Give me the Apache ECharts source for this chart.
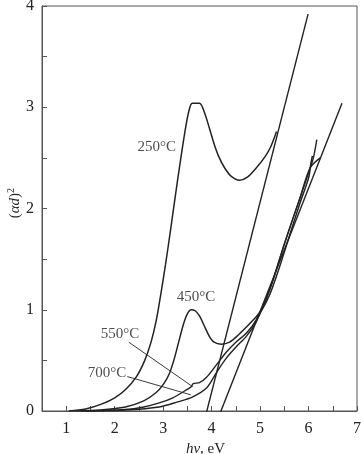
<!DOCTYPE html>
<html>
<head>
<meta charset="utf-8">
<script src="https://cdn.jsdelivr.net/npm/echarts@6/dist/echarts.min.js"></script>
<style>html,body{margin:0;padding:0;background:#fff}#c{width:361px;height:454px}</style>
</head>
<body>
<div id="c"></div>
<script>
var curve250 = [[1.05,0],[1.4,0.02],[1.74,0.07],[2.0,0.13],[2.22,0.21],[2.45,0.34],[2.62,0.5],[2.75,0.68],[2.86,0.9],[2.95,1.15],[3.05,1.45],[3.15,1.78],[3.25,2.12],[3.35,2.45],[3.45,2.76],[3.53,2.96],[3.60,3.04],[3.75,3.04],[3.85,2.95],[3.95,2.8],[4.05,2.64],[4.15,2.51],[4.27,2.40],[4.40,2.32],[4.58,2.28],[4.74,2.31],[4.92,2.40],[5.10,2.51],[5.22,2.61],[5.34,2.76]];
var curve450 = [[1.2,0],[1.7,0.01],[2.22,0.04],[2.6,0.1],[2.85,0.18],[3.0,0.26],[3.12,0.36],[3.22,0.5],[3.32,0.68],[3.42,0.86],[3.5,0.96],[3.58,1.0],[3.66,0.99],[3.75,0.94],[3.85,0.84],[3.95,0.74],[4.05,0.68],[4.2,0.66],[4.37,0.68],[4.55,0.75],[4.72,0.83],[4.9,0.92],[5.05,1.01],[5.2,1.15],[5.4,1.42],[5.6,1.72],[5.82,2.05],[6.0,2.3],[6.05,2.45],[6.08,2.52]];
var curve550 = [[1.3,0],[2.22,0.015],[2.6,0.04],[2.92,0.08],[3.2,0.13],[3.45,0.2],[3.58,0.24],[3.62,0.27],[3.75,0.28],[3.89,0.33],[4.09,0.45],[4.3,0.58],[4.5,0.68],[4.72,0.77],[4.92,0.9],[5.2,1.2],[5.5,1.65],[5.82,2.1],[6.0,2.35],[6.1,2.5],[6.17,2.68]];
var curve700 = [[1.4,0],[2.22,0.01],[2.92,0.04],[3.3,0.09],[3.61,0.14],[3.9,0.23],[4.1,0.38],[4.3,0.52],[4.5,0.63],[4.72,0.74],[4.92,0.88],[5.2,1.2],[5.55,1.72],[5.82,2.1],[6.03,2.4],[6.24,2.5]];
var fitLine1 = [[3.88,-0.04],[5.99,3.92]];
var fitLine2 = [[4.16,-0.04],[6.69,3.04]];
var leader550 = [[2.29,0.68],[3.61,0.24]];
var leader700 = [[2.26,0.34],[3.57,0.16]];
var labelNames = ['250°C','450°C','550°C','700°C'];
var labelPos = [[2.87,2.61],[3.68,1.13],[2.11,0.76],[1.84,0.375]];
var xTicks = [1,2,3,4,5,6,7];
var yTicks = [0,1,2,3,4];

var serif = 'Liberation Serif';
var ink = '#222';
function lineSeries(d, w) {
  return {type:'line', data:d, showSymbol:false, symbol:'none', smooth:0.3, silent:true,
    lineStyle:{color:ink, width:w}, z:3};
}
var chart = echarts.init(document.getElementById('c'), null, {renderer:'canvas'});
chart.setOption({
  animation:false,
  backgroundColor:'#fff',
  grid:{left:42, right:4, top:6, bottom:43, containLabel:false, outerBoundsMode:'none',
    show:true, borderColor:'#555', borderWidth:1},
  graphic:[{type:'text', left:6, top:188, rotation:Math.PI/2, silent:true,
    style:{text:'{p|(}{i|αd}{p|)}{s|2}', rich:{
      i:{fontFamily:serif, fontStyle:'italic', fontSize:15, fill:ink},
      p:{fontFamily:serif, fontSize:15, fill:ink},
      s:{fontFamily:serif, fontSize:10, fill:ink, verticalAlign:'top', padding:[0,0,8,0]}}}}],
  xAxis:{type:'value', min:0.5, max:7, interval:0.5,
    name:'{i|hν}{n|, eV}', nameLocation:'middle', nameGap:28,
    nameTextStyle:{padding:[0,0,0,12], rich:{i:{fontFamily:serif, fontStyle:'italic', fontSize:15, color:ink},
                         n:{fontFamily:serif, fontSize:15, color:ink}}},
    axisLine:{lineStyle:{color:'#555', width:1}},
    axisTick:{inside:true, length:5, lineStyle:{color:'#555'}},
    splitLine:{show:false},
    axisLabel:{margin:10, fontFamily:serif, fontSize:16, color:ink,
      formatter:function(v){ return xTicks.indexOf(v) >= 0 ? String(v) : ''; }}},
  yAxis:{type:'value', min:0, max:4, interval:0.5,
    axisLine:{show:true, lineStyle:{color:'#555', width:1}},
    axisTick:{inside:true, length:5, lineStyle:{color:'#555'}},
    splitLine:{show:false},
    axisLabel:{margin:8, fontFamily:serif, fontSize:16, color:ink,
      formatter:function(v){ return yTicks.indexOf(v) >= 0 ? String(v) : ''; }}},
  series:[
    lineSeries(curve250, 1.5),
    lineSeries(curve450, 1.5),
    lineSeries(curve550, 1.4),
    lineSeries(curve700, 1.4),
    {type:'line', data:fitLine1, showSymbol:false, symbol:'none', silent:true, lineStyle:{color:ink, width:1.4}, z:3},
    {type:'line', data:fitLine2, showSymbol:false, symbol:'none', silent:true, lineStyle:{color:ink, width:1.4}, z:3},
    {type:'line', data:leader550, showSymbol:false, symbol:'none', silent:true, lineStyle:{color:ink, width:0.9}, z:3},
    {type:'line', data:leader700, showSymbol:false, symbol:'none', silent:true, lineStyle:{color:ink, width:0.9}, z:3},
    {type:'scatter', symbolSize:0, silent:true, z:4,
      data:labelPos.map(function(p,i){ return {value:p, name:labelNames[i]}; }),
      label:{show:true, position:'inside', formatter:'{b}', fontFamily:serif, fontSize:15, color:ink}}
  ]
});
</script>
</body>
</html>
